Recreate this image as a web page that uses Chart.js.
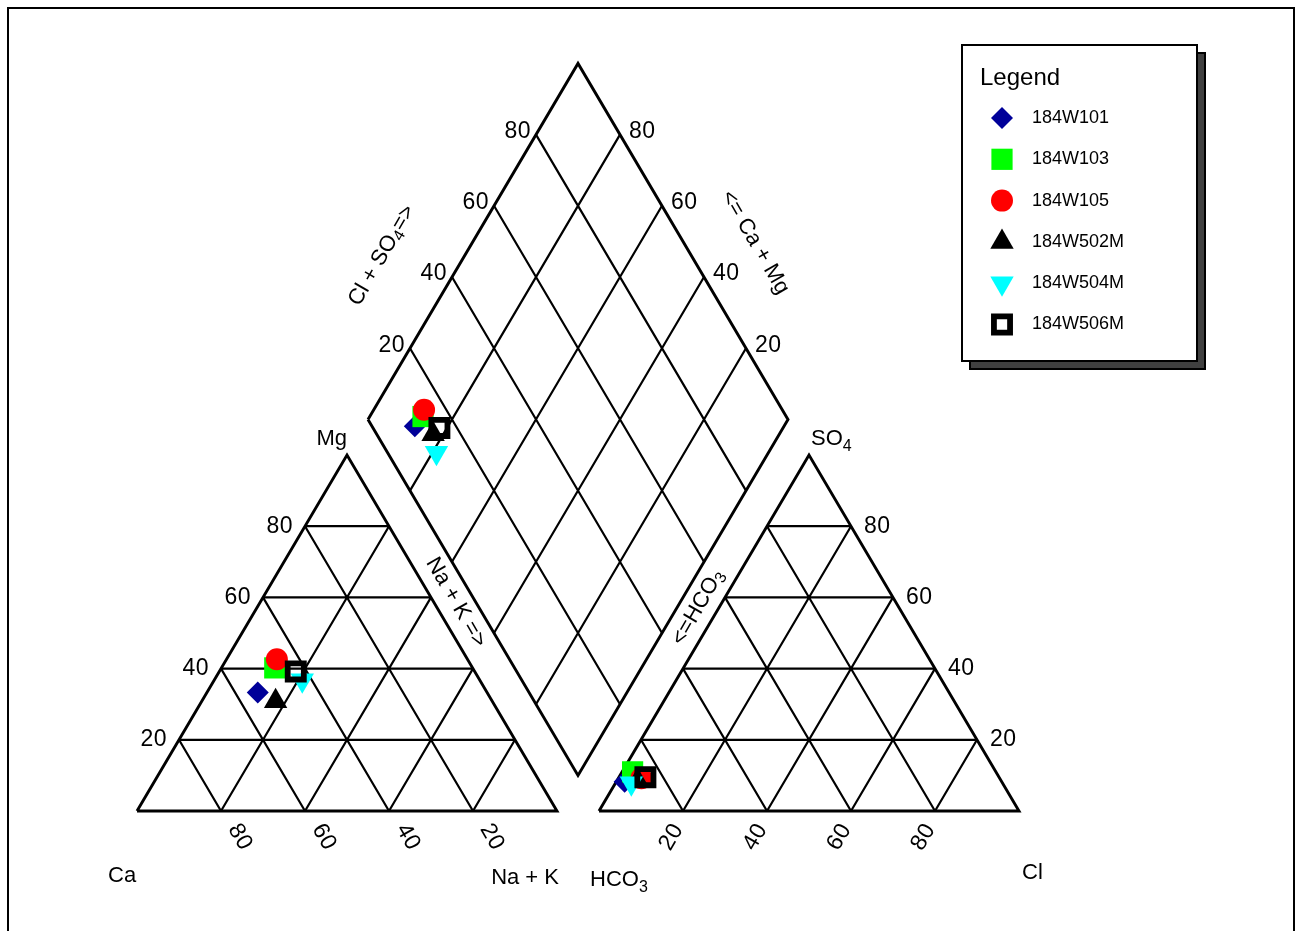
<!DOCTYPE html>
<html>
<head>
<meta charset="utf-8">
<script src="https://cdn.jsdelivr.net/npm/chart.js@4.4.1/dist/chart.umd.min.js"></script>
<style>
  html, body { margin: 0; padding: 0; background: #fff; }
  canvas { display: block; }
</style>
</head>
<body>
<canvas id="piper" width="1295" height="931"></canvas>
<script>
// Sample names (legend order)
const samples = ['184W101', '184W103', '184W105', '184W502M', '184W504M', '184W506M'];

// Cations, % meq/l
const ca  = [54.6, 47.1, 45.4, 51.6, 42.3, 42.6];
const mg  = [33.3, 40.2, 42.6, 30.8, 36.7, 39.2];
const nak = [12.1, 12.7, 12.0, 17.6, 21.0, 18.2];

// Anions, % meq/l
const hco3 = [89.8, 86.5, 85.3, 86.6, 88.4, 84.2];
const so4  = [8.2, 11.0, 9.2, 8.4, 7.8, 9.5];
const cl   = [2.0, 2.5, 5.5, 5.0, 3.8, 6.3];

const tickValues = [20, 40, 60, 80];

// marker styles, same order as samples
const markerStyle  = ['rectRot', 'rect', 'circle', 'triangle', 'triangle', 'rect'];
const markerRadius = [11, 15, 11, 13.5, 13.5, 11.4];
const markerRot    = [0, 0, 0, 0, 180, 0];
const markerFill   = ['#000099', '#00ff00', '#ff0000', '#000000', '#00ffff', 'rgba(0,0,0,0)'];
const markerBorder = [0, 0, 0, 0, 0, 5.8];

const FONT = '"Liberation Sans", Arial, sans-serif';

// Piper geometry (triangle side = 100 units)
const H = Math.sqrt(3) / 2;
const GAP = 10;
const RX = 100 + GAP;
const dTop = { x: 100 + GAP / 2, y: GAP * H + 200 * H };

const cationXY = (mgP, nakP) => ({ x: nakP + mgP / 2, y: mgP * H });
const anionXY = (so4P, clP) => ({ x: RX + clP + so4P / 2, y: so4P * H });
// n = Na+K %, s = Cl+SO4 %
const diamondXY = (n, s) => ({
  x: dTop.x - 50 * (1 - s / 100) + 50 * (n / 100),
  y: dTop.y - 100 * H * (1 - s / 100) - 100 * H * (n / 100)
});

// pixel scale of the reference
const KX = 4.2, KY = 356 / (100 * H), OX = 137, OY = 811;

// grid segments
const outline = [];
const inner = [];
const gap = { x: null, y: null };
function seg(list, a, b) { list.push(a, b, gap); }

outline.push(cationXY(0, 0), cationXY(0, 100), cationXY(100, 0), cationXY(0, 0), gap);
outline.push(anionXY(0, 0), anionXY(0, 100), anionXY(100, 0), anionXY(0, 0), gap);
outline.push(diamondXY(0, 0), diamondXY(0, 100), diamondXY(100, 100), diamondXY(100, 0), diamondXY(0, 0), gap);
tickValues.forEach(v => {
  seg(inner, cationXY(v, 0), cationXY(v, 100 - v));
  seg(inner, cationXY(0, v), cationXY(100 - v, v));
  seg(inner, cationXY(0, 100 - v), cationXY(100 - v, 0));
  seg(inner, anionXY(v, 0), anionXY(v, 100 - v));
  seg(inner, anionXY(0, v), anionXY(100 - v, v));
  seg(inner, anionXY(0, 100 - v), anionXY(100 - v, 0));
  seg(inner, diamondXY(v, 0), diamondXY(v, 100));
  seg(inner, diamondXY(0, v), diamondXY(100, v));
});

const datasets = samples.map((name, i) => ({
  label: name,
  data: [
    cationXY(mg[i], nak[i]),
    diamondXY(nak[i], so4[i] + cl[i]),
    anionXY(so4[i], cl[i])
  ],
  pointStyle: markerStyle[i],
  pointRadius: markerRadius[i],
  pointHoverRadius: markerRadius[i],
  pointRotation: markerRot[i],
  backgroundColor: markerFill[i],
  pointBackgroundColor: markerFill[i],
  borderColor: '#000',
  pointBorderColor: '#000',
  pointBorderWidth: markerBorder[i],
  order: 10 - i
}));

datasets.push({
  label: 'outline', data: outline, showLine: true, borderColor: '#000', borderWidth: 2.9,
  pointRadius: 0, pointHoverRadius: 0, spanGaps: false, order: 100
});
datasets.push({
  label: 'grid', data: inner, showLine: true, borderColor: '#000', borderWidth: 2.2,
  pointRadius: 0, pointHoverRadius: 0, spanGaps: false, order: 101
});

function richText(ctx, parts, x, y, align, size) {
  let w = 0;
  parts.forEach(([t, sub]) => {
    ctx.font = `${sub ? Math.round(size * 0.72) : size}px ${FONT}`;
    w += ctx.measureText(t).width;
  });
  let cx = align === 'center' ? x - w / 2 : align === 'right' ? x - w : x;
  ctx.textAlign = 'left';
  parts.forEach(([t, sub]) => {
    ctx.font = `${sub ? Math.round(size * 0.72) : size}px ${FONT}`;
    ctx.fillText(t, cx, sub ? y + size * 0.25 : y);
    cx += ctx.measureText(t).width;
  });
}

function rotated(ctx, parts, x, y, angle, size) {
  ctx.save();
  ctx.translate(x, y);
  ctx.rotate(angle);
  ctx.textBaseline = 'middle';
  richText(ctx, parts, 0, 0, 'center', size);
  ctx.restore();
}

const drawPoint = (Chart.helpers && Chart.helpers.drawPoint) || function (ctx, o, x, y) {
  ctx.beginPath();
  ctx.arc(x, y, o.radius, 0, Math.PI * 2);
  ctx.fill();
  if (o.borderWidth > 0) ctx.stroke();
};

const decor = {
  id: 'decor',
  beforeDraw(chart) {
    const ctx = chart.ctx;
    ctx.save();
    ctx.fillStyle = '#fff';
    ctx.fillRect(0, 0, chart.width, chart.height);
    ctx.restore();
  },
  afterDraw(chart) {
    const ctx = chart.ctx;
    const sx = chart.scales.x, sy = chart.scales.y;
    const px = p => ({ x: sx.getPixelForValue(p.x), y: sy.getPixelForValue(p.y) });
    const S = 22, T = 23;
    const hasLS = 'letterSpacing' in ctx;
    ctx.save();
    ctx.fillStyle = '#000';

    // tick labels
    if (hasLS) ctx.letterSpacing = '0.5px';
    tickValues.forEach(v => {
      let p = px(cationXY(v, 0));
      ctx.font = `${T}px ${FONT}`;
      ctx.textAlign = 'right'; ctx.textBaseline = 'middle';
      ctx.fillText(String(v), p.x - 12, p.y);

      p = px(anionXY(v, 100 - v));
      ctx.textAlign = 'left';
      ctx.fillText(String(v), p.x + 13, p.y);

      p = px(diamondXY(0, v));
      ctx.textAlign = 'right';
      ctx.fillText(String(v), p.x - 5, p.y - 3);

      p = px(diamondXY(100 - v, 100));
      ctx.textAlign = 'left';
      ctx.fillText(String(v), p.x + 9, p.y - 3);

      p = px(cationXY(0, 100 - v));
      rotated(ctx, [[String(v)]], p.x + 19, p.y + 26, Math.PI / 3, T);

      p = px(anionXY(0, v));
      rotated(ctx, [[String(v)]], p.x - 11.5, p.y + 26, -Math.PI / 3, T);
    });
    if (hasLS) ctx.letterSpacing = '0px';

    // corner titles
    ctx.textBaseline = 'alphabetic';
    let p = px(cationXY(100, 0));
    ctx.font = `${S}px ${FONT}`;
    ctx.textAlign = 'right';
    ctx.fillText('Mg', p.x, p.y - 10);
    p = px(anionXY(100, 0));
    richText(ctx, [['SO'], ['4', true]], p.x + 2, p.y - 10, 'left', S);
    p = px(cationXY(0, 0));
    richText(ctx, [['Ca']], p.x - 29, p.y + 71, 'left', S);
    p = px(cationXY(0, 100));
    richText(ctx, [['Na + K']], p.x + 2, p.y + 73, 'right', S);
    p = px(anionXY(0, 0));
    richText(ctx, [['HCO'], ['3', true]], p.x - 9, p.y + 75, 'left', S);
    p = px(anionXY(0, 100));
    richText(ctx, [['Cl']], p.x + 3, p.y + 68, 'left', S);

    // side titles
    p = px(diamondXY(0, 50));
    rotated(ctx, [['Cl + SO'], ['4', true], ['=>']], p.x - 91, p.y + 14, -Math.PI / 3, S);
    p = px(diamondXY(50, 100));
    rotated(ctx, [['<= Ca + Mg']], p.x + 72, p.y + 1, Math.PI / 3, S);
    p = px(diamondXY(50, 0));
    rotated(ctx, [['Na + K =>']], p.x - 17, p.y + 5, Math.PI / 3, S);
    p = px(diamondXY(100, 50));
    rotated(ctx, [['<=HCO'], ['3', true]], p.x + 15, p.y + 10, -Math.PI / 3, S);

    // legend box
    const L = { x: 962, y: 45, w: 235, h: 316 };
    ctx.lineWidth = 2;
    ctx.strokeStyle = '#000';
    ctx.fillStyle = '#404040';
    ctx.fillRect(L.x + 8, L.y + 8, L.w, L.h);
    ctx.strokeRect(L.x + 8, L.y + 8, L.w, L.h);
    ctx.fillStyle = '#fff';
    ctx.fillRect(L.x, L.y, L.w, L.h);
    ctx.strokeRect(L.x, L.y, L.w, L.h);

    ctx.fillStyle = '#000';
    ctx.font = `24px ${FONT}`;
    ctx.textAlign = 'left';
    ctx.textBaseline = 'alphabetic';
    ctx.fillText('Legend', 980, 85);

    samples.forEach((name, i) => {
      const y = 118 + i * 41.3;
      ctx.fillStyle = markerFill[i];
      ctx.strokeStyle = '#000';
      ctx.lineWidth = markerBorder[i];
      drawPoint(ctx, {
        pointStyle: markerStyle[i], rotation: markerRot[i],
        radius: markerRadius[i], borderWidth: markerBorder[i]
      }, 1002, y);
      ctx.fillStyle = '#000';
      ctx.font = `18px ${FONT}`;
      ctx.textBaseline = 'middle';
      ctx.fillText(name, 1032, y);
    });

    // outer frame
    ctx.lineWidth = 2;
    ctx.strokeStyle = '#000';
    ctx.strokeRect(8, 8, 1286, 940);
    ctx.restore();
  }
};

new Chart(document.getElementById('piper'), {
  type: 'scatter',
  data: { datasets: datasets },
  options: {
    responsive: false,
    animation: false,
    events: [],
    layout: { padding: 0, autoPadding: false },
    plugins: { legend: { display: false }, tooltip: { enabled: false } },
    scales: {
      x: { type: 'linear', display: false, min: -OX / KX, max: (1295 - OX) / KX },
      y: { type: 'linear', display: false, min: -(931 - OY) / KY, max: OY / KY }
    }
  },
  plugins: [decor]
});
</script>
</body>
</html>
